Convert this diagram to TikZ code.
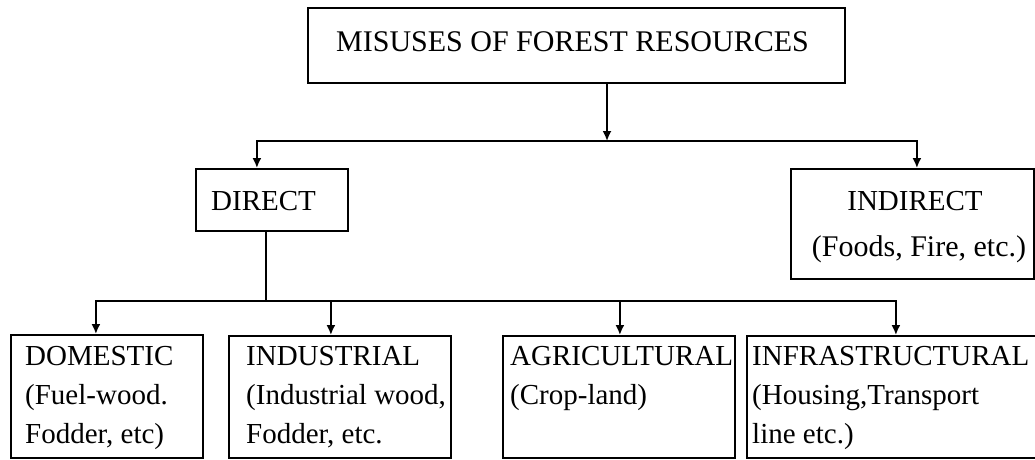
\documentclass[tikz,border=0pt]{standalone}
\usepackage{fontspec}
\setmainfont{Liberation Serif}
\usetikzlibrary{arrows.meta}
\begin{document}
\begin{tikzpicture}[x=1pt,y=-1pt,
  box/.style={draw, line width=1.8pt, inner sep=0pt, anchor=north west},
  arr/.style={line width=1.8pt, -{Latex[length=10pt,width=9pt]}},
  ln/.style={line width=1.8pt},
  txt/.style={inner sep=0pt, font=\fontsize{29}{39}\selectfont},
]
\useasboundingbox (0,0) rectangle (1035,459);
\clip (0,0) rectangle (1035,459);
% boxes
\node[box, minimum width=537pt, minimum height=75pt] (top) at (307,7) {};
\node[box, minimum width=152pt, minimum height=62pt] (direct) at (195,168) {};
\node[box, minimum width=243pt, minimum height=110pt] (indirect) at (790,168) {};
\node[box, minimum width=192pt, minimum height=123pt] (dom) at (10,334) {};
\node[box, minimum width=222pt, minimum height=122pt] (ind) at (228,335) {};
\node[box, minimum width=232pt, minimum height=122pt] (agr) at (502,335) {};
\node[box, minimum width=300pt, minimum height=122pt] (inf) at (746,335) {};
% texts
\node[txt, anchor=base west] (ttitle) at (336,51) {\fontsize{30}{36}\selectfont MISUSES OF FOREST RESOURCES};
\node[txt, anchor=base west] (tdirect) at (211,210) {DIRECT};
\node[txt, anchor=base] (tindA) at (915,210) {INDIRECT};
\node[txt, anchor=base] (tindB) at (919,256) {\fontsize{30}{36}\selectfont (Foods, Fire, etc.)};
\node[txt, anchor=north west, align=left] (tdom) at (25,346) {DOMESTIC\\(Fuel-wood.\\Fodder, etc)};
\node[txt, anchor=north west, align=left] (tind) at (246,346) {INDUSTRIAL\\(Industrial wood,\\Fodder, etc.};
\node[txt, anchor=north west, align=left] (tagr) at (510,346) {AGRICULTURAL\\(Crop-land)};
\node[txt, anchor=north west, align=left] (tinf) at (752,346) {INFRASTRUCTURAL\\(Housing,Transport\\line etc.)};
% connectors
\coordinate (j1) at (607,141);
\coordinate (j2) at (266,301);
\draw[arr] (top.south -| j1) -- (j1);
\draw[arr] (j1) -| ([xshift=-15pt]direct.north);
\draw[arr] (j1) -| ([xshift=4.5pt]indirect.north);
\draw[ln] (direct.south -| j2) -- (j2);
\draw[arr] (j2) -| ([xshift=-11pt]dom.north);
\draw[arr] (j2) -| ([xshift=-9pt]ind.north);
\draw[arr] (j2) -| ([xshift=1pt]agr.north);
\draw[arr] (j2) -| ([xshift=-1pt]inf.north);
\end{tikzpicture}
\end{document}
